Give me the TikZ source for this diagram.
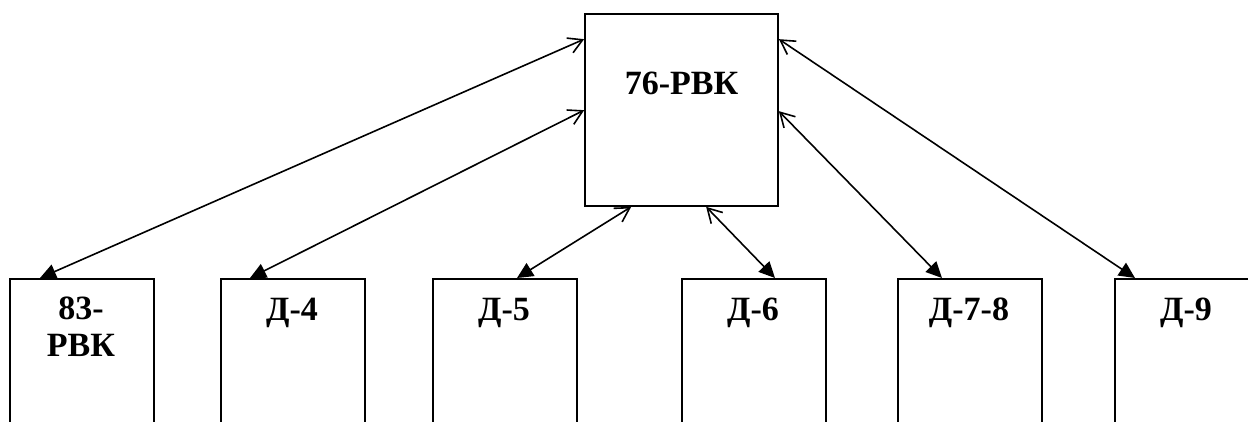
\documentclass[tikz,border=0pt]{standalone}
\usepackage{fontspec}
\setmainfont{Liberation Serif}
\usetikzlibrary{arrows.meta}
\tikzset{
  box/.style={draw, line width=1.7pt, inner sep=0pt},
  lbl/.style={font=\fontsize{34}{37}\selectfont\bfseries, align=center, inner sep=0pt, anchor=north},
  link/.style={line width=1.6pt, {Triangle[length=16pt,width=15pt]}-{Straight Barb[length=14pt,width=16pt,line width=1.6pt]}}
}
\begin{document}
\begin{tikzpicture}[x=1pt,y=-1pt]
\useasboundingbox (0,0) rectangle (1248,421);
\clip (0,0) rectangle (1248,421);
% central unit
\node[box, minimum width=193pt, minimum height=192pt] (top) at (681.5,110) {};
\node[lbl] (toplbl) at (681.5,72) {76-РВК};
% lower units (their bottom edges run below the frame)
\node[box, minimum width=144pt, minimum height=200pt, anchor=north west] (b1) at (9,278) {};
\node[box, minimum width=144pt, minimum height=200pt, anchor=north west] (b2) at (220,278) {};
\node[box, minimum width=144pt, minimum height=200pt, anchor=north west] (b3) at (432,278) {};
\node[box, minimum width=144pt, minimum height=200pt, anchor=north west] (b4) at (681,278) {};
\node[box, minimum width=144pt, minimum height=200pt, anchor=north west] (b5) at (897,278) {};
\node[box, minimum width=144pt, minimum height=200pt, anchor=north west] (b6) at (1114,278) {};
\node[lbl] (l1) at (81,297) {83-\\РВК};
\node[lbl] (l2) at (292,298) {Д-4};
\node[lbl] (l3) at (504,298) {Д-5};
\node[lbl] (l4) at (753,298) {Д-6};
\node[lbl] (l5) at (969,298) {Д-7-8};
\node[lbl] (l6) at (1186,298) {Д-9};
% links
\draw[link] ([xshift=31pt]b1.north west) -- ([yshift=-26pt]top.north west);
\draw[link] ([xshift=30pt]b2.north west) -- ([yshift=-97pt]top.north west);
\draw[link] ([xshift=85pt]b3.north west) -- ([xshift=47pt]top.south west);
\draw[link] ([xshift=94pt]b4.north west) -- ([xshift=122pt]top.south west);
\draw[link] ([xshift=45pt]b5.north west) -- ([yshift=-98pt]top.north east);
\draw[link] ([xshift=21pt]b6.north west) -- ([yshift=-26pt]top.north east);
\end{tikzpicture}
\end{document}
